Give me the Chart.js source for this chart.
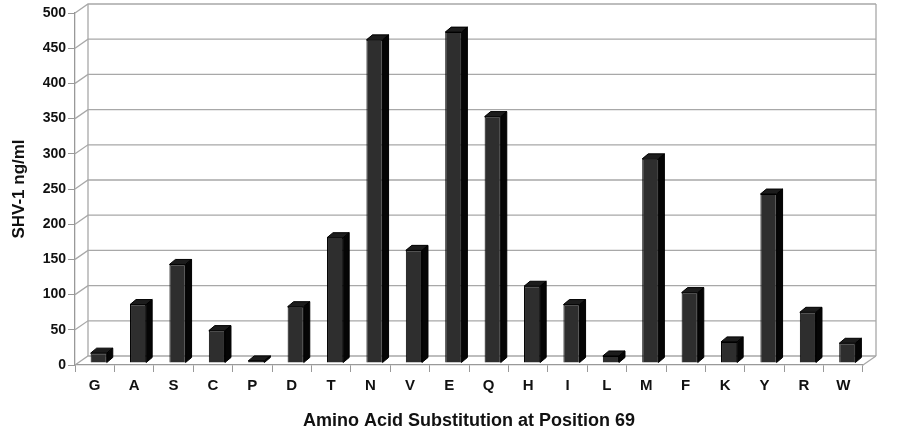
<!DOCTYPE html>
<html>
<head>
<meta charset="utf-8">
<script src="https://cdn.jsdelivr.net/npm/chart.js@4"></script>
<style>
  html, body { margin: 0; padding: 0; background: #fff; }
  #wrap { width: 898px; height: 432px; }
</style>
</head>
<body>
<div id="wrap"><canvas id="c" width="898" height="432"></canvas></div>
<script>
const categories = ['G','A','S','C','P','D','T','N','V','E','Q','H','I','L','M','F','K','Y','R','W'];
const shvValues = [14, 83, 140, 46, 3, 80, 178, 459, 160, 470, 350, 109, 83, 10, 290, 100, 30, 240, 72, 28];
const yTicks = [0, 50, 100, 150, 200, 250, 300, 350, 400, 450, 500];

const WALL_DX = 13, WALL_DY = -9;     // back-wall depth offset
const BAR_DX = 6, BAR_DY = -5;        // bar extrusion
const BAR_SHIFT_X = 4, BAR_SHIFT_Y = -2;

const wallPlugin = {
  id: 'walls',
  beforeDatasetsDraw(chart) {
    const { ctx, chartArea, scales } = chart;
    const y = scales.y;
    const left = chartArea.left, right = chartArea.right;
    const top = y.getPixelForValue(500), bottom = y.getPixelForValue(0);
    ctx.save();
    ctx.strokeStyle = '#a8a8a8';
    ctx.lineWidth = 1.3;
    yTicks.forEach(v => {
      const py = y.getPixelForValue(v);
      ctx.beginPath();
      ctx.moveTo(left, py);
      ctx.lineTo(left + WALL_DX, py + WALL_DY);
      ctx.lineTo(right + WALL_DX, py + WALL_DY);
      ctx.stroke();
    });
    ctx.beginPath();
    ctx.moveTo(left + WALL_DX, top + WALL_DY);
    ctx.lineTo(left + WALL_DX, bottom + WALL_DY);
    ctx.moveTo(right + WALL_DX, top + WALL_DY);
    ctx.lineTo(right + WALL_DX, bottom + WALL_DY);
    ctx.moveTo(right, bottom);
    ctx.lineTo(right + WALL_DX, bottom + WALL_DY);
    ctx.stroke();
    ctx.restore();
    ctx.save();
    ctx.translate(BAR_SHIFT_X, BAR_SHIFT_Y);
  },
  afterDatasetsDraw(chart) {
    const { ctx } = chart;
    const meta = chart.getDatasetMeta(0);
    meta.data.forEach(bar => {
      const w = bar.width;
      const x0 = bar.x - w / 2, x1 = bar.x + w / 2;
      const yt = bar.y, yb = bar.base;
      ctx.lineWidth = 1;
      ctx.strokeStyle = '#000';
      ctx.fillStyle = '#1c1c1c';
      ctx.beginPath();
      ctx.moveTo(x0, yt);
      ctx.lineTo(x0 + BAR_DX, yt + BAR_DY);
      ctx.lineTo(x1 + BAR_DX, yt + BAR_DY);
      ctx.lineTo(x1, yt);
      ctx.closePath();
      ctx.fill(); ctx.stroke();
      ctx.fillStyle = '#050505';
      ctx.beginPath();
      ctx.moveTo(x1, yt);
      ctx.lineTo(x1 + BAR_DX, yt + BAR_DY);
      ctx.lineTo(x1 + BAR_DX, yb + BAR_DY);
      ctx.lineTo(x1, yb);
      ctx.closePath();
      ctx.fill(); ctx.stroke();
    });
    ctx.restore();
  }
};

const FONT = 'Liberation Sans, Arial, sans-serif';

new Chart(document.getElementById('c'), {
  type: 'bar',
  data: {
    labels: categories,
    datasets: [{
      data: shvValues,
      backgroundColor: '#2e2e2e',
      borderColor: '#000',
      borderWidth: 1,
      barPercentage: 0.41,
      categoryPercentage: 1.0
    }]
  },
  options: {
    responsive: false,
    animation: false,
    devicePixelRatio: 1,
    layout: { padding: { top: 13, right: 35, left: 0, bottom: 0 } },
    plugins: { legend: { display: false }, tooltip: { enabled: false } },
    scales: {
      x: {
        offset: true,
        grid: { display: true, offset: true, drawOnChartArea: false, drawTicks: true, tickLength: 7, color: '#999' },
        border: { display: true, color: '#999', width: 1.3 },
        ticks: { color: '#111', font: { family: FONT, size: 15, weight: 'bold' }, padding: 5, autoSkip: false, maxRotation: 0 },
        title: { display: true, text: 'Amino Acid Substitution at Position 69', color: '#111', font: { family: FONT, size: 18, weight: 'bold' }, padding: { top: 0, bottom: 0 } },
        afterFit(scale) { scale.height = 67; }
      },
      y: {
        min: 0, max: 500,
        afterBuildTicks(scale) { scale.ticks = yTicks.map(v => ({ value: v })); },
        grid: { display: true, drawOnChartArea: false, drawTicks: true, tickLength: 7, color: '#999' },
        border: { display: true, color: '#999', width: 1.3 },
        ticks: { color: '#111', font: { family: FONT, size: 14, weight: 'bold' }, padding: 2 },
        title: { display: true, text: 'SHV-1 ng/ml', color: '#111', font: { family: FONT, size: 17, weight: 'bold' }, padding: { top: 9, bottom: 0 } },
        afterFit(scale) { scale.width = 75; }
      }
    }
  },
  plugins: [wallPlugin]
});
</script>
</body>
</html>
